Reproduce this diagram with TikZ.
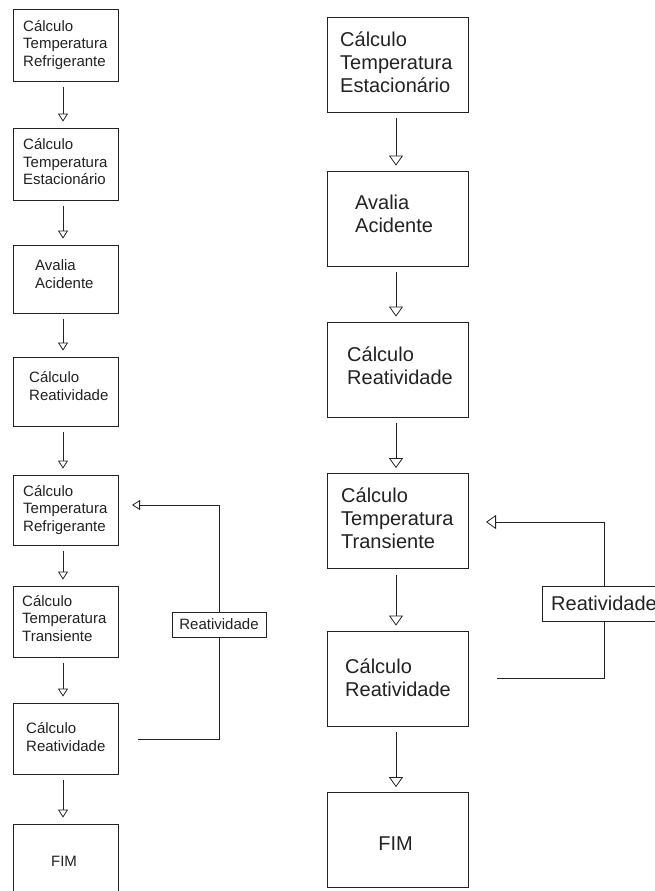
\documentclass[tikz,border=0pt]{standalone}
\usepackage{fontspec}
\setmainfont{Liberation Sans}
\usetikzlibrary{arrows.meta}
\definecolor{ink}{HTML}{222222}
\tikzset{
  box/.style={draw=ink, line width=0.8pt, rectangle, inner sep=0pt, fill=white},
  lbox/.style={box, minimum width=105pt},
  rbox/.style={box, minimum width=141pt, minimum height=95pt},
  ltxt/.style={anchor=west, align=left, inner sep=0pt, text=ink, font=\fontsize{15}{17.5}\selectfont},
  rtxt/.style={anchor=west, align=left, inner sep=0pt, text=ink, font=\fontsize{20}{23}\selectfont},
  larr/.style={draw=ink, line width=0.8pt, -{Triangle[open, length=8pt, width=10pt]}},
  rarr/.style={draw=ink, line width=0.8pt, -{Triangle[open, length=10pt, width=14pt]}},
  fb/.style={draw=ink, line width=0.8pt},
}
\begin{document}
\begin{tikzpicture}[x=1pt,y=-1pt]
\useasboundingbox (0,0) rectangle (655,891);
% ---------- left column ----------
\node[lbox, minimum height=72pt] (L1) at (65.5,45) {};
\node[lbox, minimum height=72pt] (L2) at (65.5,164) {};
\node[lbox, minimum height=68pt] (L3) at (65.5,279) {};
\node[lbox, minimum height=69pt] (L4) at (65.5,391.5) {};
\node[lbox, minimum height=70pt] (L5) at (65.5,510) {};
\node[lbox, minimum height=71pt] (L6) at (65.5,621.5) {};
\node[lbox, minimum height=71pt] (L7) at (65.5,738.5) {};
\node[lbox, minimum height=74pt] (L8) at (65.5,861) {};

\node[ltxt] (tL1) at (23,45) {Cálculo\\Temperatura\\Refrigerante};
\node[ltxt] (tL2) at (23,162) {Cálculo\\Temperatura\\Estacionário};
\node[ltxt] (tL3) at (35,274) {Avalia\\Acidente};
\node[ltxt] (tL4) at (29,386) {Cálculo\\Reatividade};
\node[ltxt] (tL5) at (23,510) {Cálculo\\Temperatura\\Refrigerante};
\node[ltxt] (tL6) at (22,618.5) {Cálculo\\Temperatura\\Transiente};
\node[ltxt] (tL7) at (26,737) {Cálculo\\Reatividade};
\node[ltxt, anchor=center] (tL8) at (64,861) {FIM};

\foreach \a/\b in {L1/L2,L2/L3,L3/L4,L4/L5,L5/L6,L6/L7,L7/L8}{
  \draw[larr, shorten <=6pt, shorten >=6pt] ([xshift=-2.5pt]\a.south) -- ([xshift=-2.5pt]\b.north);
}

% left feedback
\node[box, minimum width=94pt, minimum height=25pt, text=ink, font=\fontsize{15}{17.5}\selectfont] (RL) at (219,624.5) {Reatividade};
\coordinate (fbLs) at (138,739);
\coordinate (fbLe) at (132,505);
\draw[fb] (fbLs) -| (RL.south);
\draw[larr] (RL.north) |- (fbLe);

% ---------- right column ----------
\node[rbox] (R1) at (397.5,64.5) {};
\node[rbox] (R2) at (397.5,218.5) {};
\node[rbox] (R3) at (397.5,369.5) {};
\node[rbox] (R4) at (397.5,521) {};
\node[rbox] (R5) at (397.5,678.5) {};
\node[rbox] (R6) at (397.5,840) {};

\node[rtxt] (tR1) at (340,62) {Cálculo\\Temperatura\\Estacionário};
\node[rtxt] (tR2) at (355,213.5) {Avalia\\Acidente};
\node[rtxt] (tR3) at (347,366) {Cálculo\\Reatividade};
\node[rtxt] (tR4) at (341,518) {Cálculo\\Temperatura\\Transiente};
\node[rtxt] (tR5) at (345,677.5) {Cálculo\\Reatividade};
\node[rtxt, anchor=center] (tR6) at (395.5,843.5) {FIM};

\foreach \a/\b in {R1/R2,R2/R3,R3/R4,R4/R5,R5/R6}{
  \draw[rarr, shorten <=6pt, shorten >=5pt] ([xshift=-1.5pt]\a.south) -- ([xshift=-1.5pt]\b.north);
}

% right feedback
\node[box, minimum width=124pt, minimum height=35pt, text=ink, font=\fontsize{20}{23}\selectfont] (RR) at (604,603.5) {Reatividade};
\coordinate (fbRs) at (497,678);
\coordinate (fbRe) at (486,522);
\draw[fb] (fbRs) -| (RR.south);
\draw[rarr] (RR.north) |- (fbRe);
\end{tikzpicture}
\end{document}
